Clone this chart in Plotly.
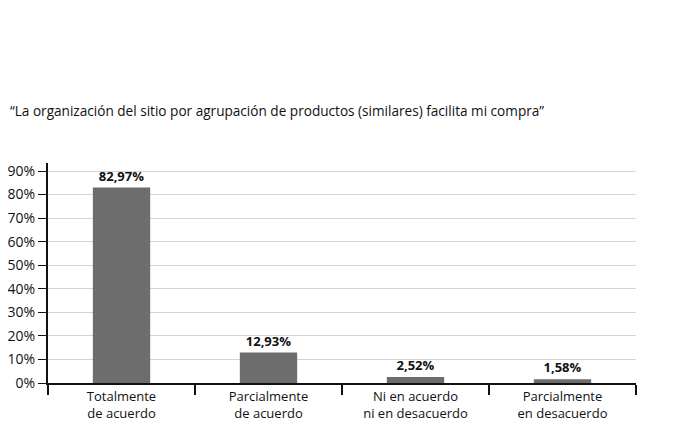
import plotly.graph_objects as go

categories = ["Totalmente<br>de acuerdo", "Parcialmente<br>de acuerdo",
              "Ni en acuerdo<br>ni en desacuerdo", "Parcialmente<br>en desacuerdo"]
values = [82.97, 12.93, 2.52, 1.58]
labels = ["82,97%", "12,93%", "2,52%", "1,58%"]
yticks = [0, 10, 20, 30, 40, 50, 60, 70, 80, 90]
yticklabels = [f"{v}%" for v in yticks]

font = "Open Sans, sans-serif"

fig = go.Figure()
fig.add_trace(go.Bar(
    x=categories, y=values,
    marker=dict(color="#6d6d6d", line=dict(width=0)),
    width=0.39,
    text=labels, textposition="outside", cliponaxis=False,
    textfont=dict(family=font, size=13, color="#111111", weight="bold"),
))

# page has an 8px body margin, so margins are shifted by 8
fig.update_layout(
    width=685, height=432,
    margin=dict(l=40, r=57, t=155, b=57),
    plot_bgcolor="white", paper_bgcolor="white",
    showlegend=False,
    font=dict(family=font, size=13, color="#111111"),
    annotations=[dict(
        text="\u201cLa organización del sitio por agrupación de productos (similares) facilita mi compra\u201d",
        xref="paper", yref="paper", x=-40 / 588, y=1.24, xanchor="left", yanchor="middle",
        showarrow=False, font=dict(family=font, size=13.6, color="#111111"),
    )],
)
fig.update_xaxes(
    automargin=False,
    showline=True, linecolor="#111111", linewidth=2,
    ticks="outside", tickson="boundaries", ticklen=10, tickwidth=2, tickcolor="#111111",
    showgrid=False,
    tickfont=dict(family=font, size=13, color="#111111"),
)
fig.update_yaxes(
    automargin=False,
    range=[0, 93.4], tickvals=yticks, ticktext=yticklabels,
    showline=True, linecolor="#111111", linewidth=2,
    ticks="outside", ticklen=8, tickwidth=1, tickcolor="#111111",
    showgrid=True, gridcolor="#d4d4d4", gridwidth=1,
    zeroline=False,
    tickfont=dict(family=font, size=14, color="#111111"),
)

fig.write_html("out.html")
